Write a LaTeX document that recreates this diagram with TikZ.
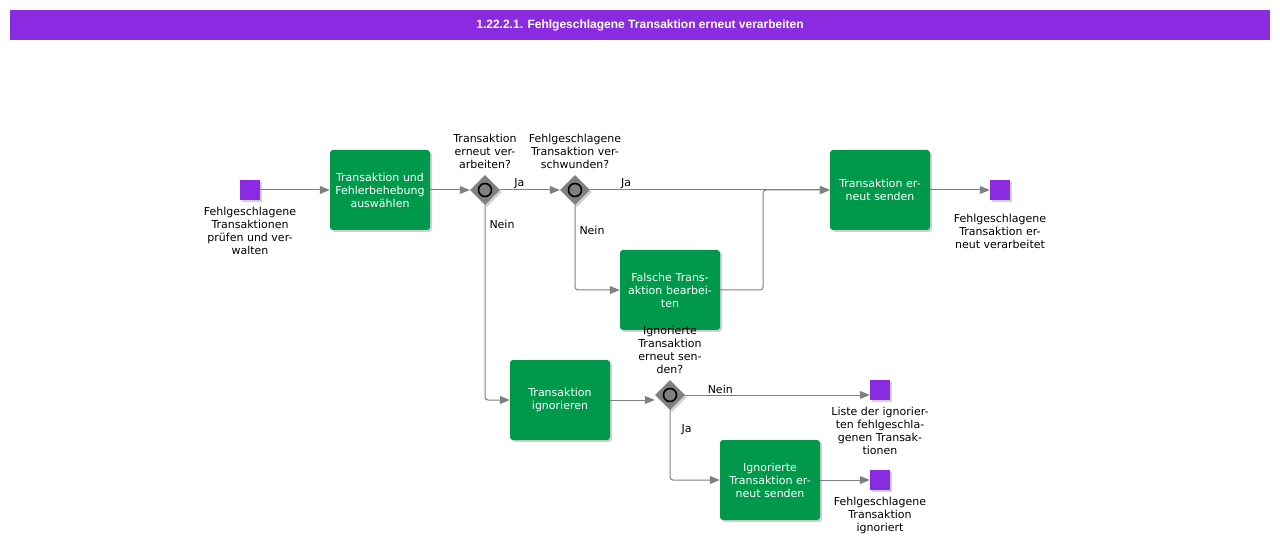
\documentclass[tikz,border=0pt]{standalone}
\usepackage{fontspec}
\setmainfont{DejaVu Sans}
\newfontfamily\titlefont{Liberation Sans}
\usetikzlibrary{shapes.geometric,arrows.meta,shadows}
\definecolor{taskgreen}{RGB}{0,153,76}
\definecolor{evpurple}{RGB}{138,43,226}
\definecolor{flowgray}{RGB}{128,128,128}
\tikzset{
  softshadow/.style={drop shadow={shadow xshift=2pt,shadow yshift=-2pt,opacity=.3,fill=black!60}},
  task/.style={rectangle,rounded corners=3pt,fill=taskgreen,text=white,minimum width=100pt,minimum height=80pt,text width=94pt,align=center,inner sep=0pt,softshadow,font=\fontsize{11}{13}\selectfont},
  event/.style={rectangle,fill=evpurple,minimum size=20pt,inner sep=0pt,softshadow},
  gateway/.style={diamond,fill=flowgray,minimum size=30pt,inner sep=0pt,softshadow},
  gwring/.style={draw=black,line width=1.6pt,fill=flowgray},
  flow/.style={draw=flowgray,line width=1pt,-{Triangle[length=10pt,width=8pt]},rounded corners=3pt},
  note/.style={font=\fontsize{11}{13}\selectfont,align=center,inner sep=1pt},
  titlebar/.style={rectangle,fill=evpurple,text=white,minimum width=1260pt,minimum height=30pt,inner sep=0pt,font=\titlefont\bfseries\fontsize{12}{14}\selectfont},
}
\begin{document}
\begin{tikzpicture}[x=1pt,y=-1pt]
\useasboundingbox (0,0) rectangle (1280,545);
\node[titlebar] (title) at (640,25) {1.22.2.1. Fehlgeschlagene Transaktion erneut verarbeiten};

% events and tasks
\node[event,label={[note,label distance=6pt]below:{Fehlgeschlagene\\Transaktionen\\prüfen und ver-\\walten}}] (start) at (250,190) {};
\node[task] (pick) at (380,190) {Transaktion und\\Fehlerbehebung\\auswählen};
\node[gateway,label={[note,label distance=5pt]above:{Transaktion\\erneut ver-\\arbeiten?}}] (g1) at (485,190) {};
\node[gateway,label={[note,label distance=5pt]above:{Fehlgeschlagene\\Transaktion ver-\\schwunden?}}] (g2) at (575,190) {};
\node[task] (send) at (880,190) {Transaktion er-\\neut senden};
\node[event,label={[note,label distance=13pt]below:{Fehlgeschlagene\\Transaktion er-\\neut verarbeitet}}] (done) at (1000,190) {};
\node[task] (fix) at (670,290) {Falsche Trans-\\aktion bearbei-\\ten};
\node[task] (ign) at (560,400) {Transaktion\\ignorieren};
\node[gateway,label={[note,label distance=5pt]above:{Ignorierte\\Transaktion\\erneut sen-\\den?}}] (g3) at (670,395) {};
\node[event,label={[note,label distance=6pt]below:{Liste der ignorier-\\ten fehlgeschla-\\genen Transak-\\tionen}}] (list) at (880,390) {};
\node[task] (resend) at (770,480) {Ignorierte\\Transaktion er-\\neut senden};
\node[event,label={[note,label distance=6pt]below:{Fehlgeschlagene\\Transaktion\\ignoriert}}] (ignored) at (880,480) {};
\foreach \g in {g1,g2,g3} \draw[gwring] (\g) circle (6.5);

% flows
\coordinate (join) at (763,190);
\draw[flow] (start) -- (pick);
\draw[flow] (pick) -- (g1);
\draw[flow] (g1) -- node[note,above,pos=.32] {Ja} (g2);
\draw[flow] (g2) -- node[note,above,pos=.15] {Ja} (send);
\draw[flow] (g2) |- node[note,right,pos=.15,xshift=3pt] {Nein} (fix);
\draw[flow] (fix) -| (join) -- (send);
\draw[flow] (g1) |- node[note,right,pos=.05,xshift=3pt] {Nein} (ign);
\draw[flow] (send) -- (done);
\draw[flow] (ign) -- (ign -| g3.west);
\draw[flow] (g3) -- node[note,above,pos=.19] {Nein} (g3 -| list.west);
\draw[flow] (g3) |- node[note,right,pos=.14,xshift=10pt] {Ja} (resend);
\draw[flow] (resend) -- (ignored);
\end{tikzpicture}
\end{document}
